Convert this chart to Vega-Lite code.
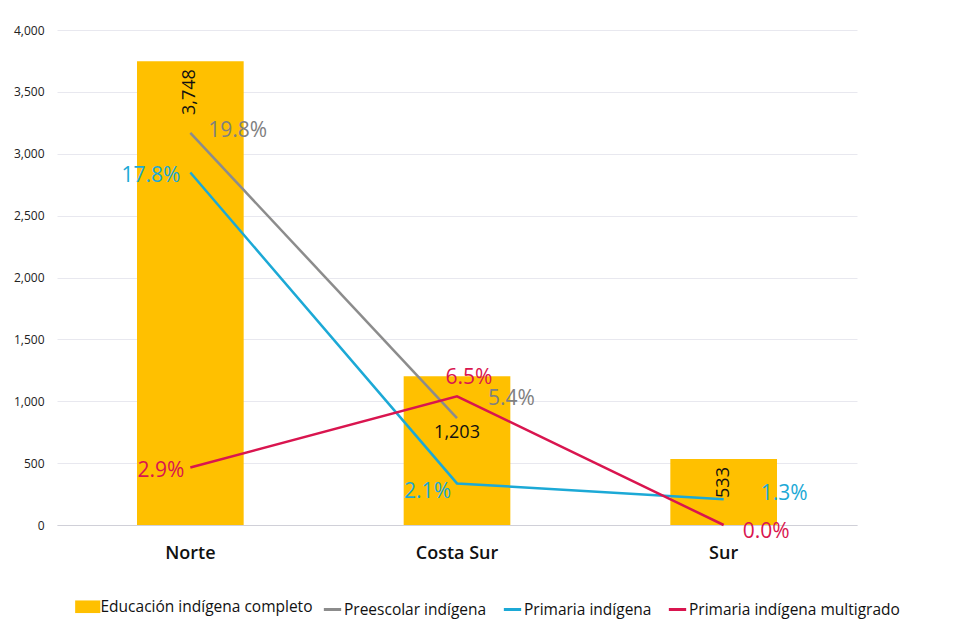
{
  "$schema": "https://vega.github.io/schema/vega-lite/v6.json",
  "width": 800,
  "height": 495,
  "autosize": "none",
  "padding": {"left": 57, "top": 30, "right": 118, "bottom": 117},
  "background": "white",
  "config": {
    "font": "Open Sans",
    "view": {"stroke": null},
    "axis": {"labelFont": "Open Sans"},
    "legend": {"labelFont": "Open Sans"}
  },
  "datasets": {
    "bars": [
      {"region": "Norte", "serie": "Educación indígena completo", "valor": 3748},
      {"region": "Costa Sur", "serie": "Educación indígena completo", "valor": 1203},
      {"region": "Sur", "serie": "Educación indígena completo", "valor": 533}
    ],
    "lines": [
      {"region": "Norte", "serie": "Preescolar indígena", "pct": 19.8, "label": "19.8%"},
      {"region": "Costa Sur", "serie": "Preescolar indígena", "pct": 5.4, "label": "5.4%"},
      {"region": "Norte", "serie": "Primaria indígena", "pct": 17.8, "label": "17.8%"},
      {"region": "Costa Sur", "serie": "Primaria indígena", "pct": 2.1, "label": "2.1%"},
      {"region": "Sur", "serie": "Primaria indígena", "pct": 1.3, "label": "1.3%"},
      {"region": "Norte", "serie": "Primaria indígena multigrado", "pct": 2.9, "label": "2.9%"},
      {"region": "Costa Sur", "serie": "Primaria indígena multigrado", "pct": 6.5, "label": "6.5%"},
      {"region": "Sur", "serie": "Primaria indígena multigrado", "pct": 0.0, "label": "0.0%"}
    ]
  },
  "encoding": {
    "x": {
      "field": "region", "type": "nominal", "sort": ["Norte", "Costa Sur", "Sur"],
      "scale": {"paddingInner": 0.6, "paddingOuter": 0.3},
      "axis": {"title": null, "labelAngle": 0, "labelFontSize": 18, "labelFontWeight": 600, "labelColor": "#111", "labelPadding": 19, "domainColor": "#d0d0d8", "ticks": false}
    }
  },
  "layer": [
    {
      "data": {"name": "bars"},
      "encoding": {
        "y": {"field": "valor", "type": "quantitative", "scale": {"domain": [0, 4000]},
          "axis": {"title": null, "format": ",.0f", "values": [0,500,1000,1500,2000,2500,3000,3500,4000], "labelFontSize": 12, "labelColor": "#222", "labelPadding": 13, "domain": false, "ticks": false, "gridColor": "#e8e8ef"}}
      },
      "layer": [
        {
          "mark": {"type": "bar", "color": "#FFC000"},
          "encoding": {
            "fill": {"field": "serie", "type": "nominal", "scale": {"range": ["#FFC000"]},
              "legend": {"title": null, "orient": "none", "legendX": 23, "legendY": 569, "symbolType": "M-1.8,-0.9H1.8V0.9H-1.8Z", "symbolSize": 196, "labelFontSize": 15.5, "labelLimit": 400, "labelColor": "#111", "labelOffset": 5, "symbolStrokeWidth": 0}}
          }
        },
        {
          "transform": [{"filter": "datum.region !== 'Costa Sur'"}],
          "mark": {"type": "text", "angle": 270, "align": "right", "baseline": "middle", "dx": -8, "fontSize": 18, "fontWeight": 500, "color": "#111"},
          "encoding": {
            "text": {"field": "valor", "type": "quantitative", "format": ","}
          }
        },
        {
          "transform": [{"filter": "datum.region === 'Costa Sur'"}],
          "mark": {"type": "text", "align": "center", "baseline": "middle", "dy": 57, "fontSize": 18, "fontWeight": 500, "color": "#111"},
          "encoding": {
            "text": {"field": "valor", "type": "quantitative", "format": ","}
          }
        }
      ]
    },
    {
      "data": {"name": "lines"},
      "encoding": {
        "y": {"field": "pct", "type": "quantitative", "scale": {"domain": [0, 25]}, "axis": null}
      },
      "layer": [
        {
          "mark": {"type": "line", "strokeWidth": 2.5},
          "encoding": {
            "stroke": {"field": "serie", "type": "nominal",
              "scale": {"domain": ["Preescolar indígena", "Primaria indígena", "Primaria indígena multigrado"], "range": ["#8C8C8C", "#1CA9D6", "#D9154F"]},
              "legend": {"title": null, "orient": "none", "direction": "horizontal", "legendX": 265, "legendY": 569, "symbolType": "stroke", "symbolStrokeWidth": 3, "symbolSize": 300, "labelFontSize": 15.5, "labelLimit": 400, "labelColor": "#111", "labelOffset": 1, "columnPadding": 10}}
          }
        },
        {"transform": [{"filter": "datum.label === '19.8%'"}], "mark": {"type": "text", "align": "left", "baseline": "middle", "dx": 18, "dy": -2, "fontSize": 21, "fontWeight": 500, "color": "#808080"}, "encoding": {"text": {"field": "label"}}},
        {"transform": [{"filter": "datum.label === '5.4%'"}], "mark": {"type": "text", "align": "left", "baseline": "middle", "dx": 31, "dy": -19, "fontSize": 21, "fontWeight": 500, "color": "#808080"}, "encoding": {"text": {"field": "label"}}},
        {"transform": [{"filter": "datum.label === '17.8%'"}], "mark": {"type": "text", "align": "right", "baseline": "middle", "dx": -10, "dy": 3, "fontSize": 21, "fontWeight": 500, "color": "#1CA9D6"}, "encoding": {"text": {"field": "label"}}},
        {"transform": [{"filter": "datum.label === '2.1%'"}], "mark": {"type": "text", "align": "right", "baseline": "middle", "dx": -6, "dy": 9, "fontSize": 21, "fontWeight": 500, "color": "#1CA9D6"}, "encoding": {"text": {"field": "label"}}},
        {"transform": [{"filter": "datum.label === '1.3%'"}], "mark": {"type": "text", "align": "left", "baseline": "middle", "dx": 37, "dy": -5, "fontSize": 21, "fontWeight": 500, "color": "#1CA9D6"}, "encoding": {"text": {"field": "label"}}},
        {"transform": [{"filter": "datum.label === '2.9%'"}], "mark": {"type": "text", "align": "right", "baseline": "middle", "dx": -6, "dy": 3, "fontSize": 21, "fontWeight": 500, "color": "#D9154F"}, "encoding": {"text": {"field": "label"}}},
        {"transform": [{"filter": "datum.label === '6.5%'"}], "mark": {"type": "text", "align": "center", "baseline": "middle", "dx": 12, "dy": -18, "fontSize": 21, "fontWeight": 500, "color": "#D9154F"}, "encoding": {"text": {"field": "label"}}},
        {"transform": [{"filter": "datum.label === '0.0%'"}], "mark": {"type": "text", "align": "left", "baseline": "middle", "dx": 19, "dy": 7, "fontSize": 21, "fontWeight": 500, "color": "#D9154F"}, "encoding": {"text": {"field": "label"}}}
      ]
    }
  ],
  "resolve": {"scale": {"y": "independent", "fill": "independent", "stroke": "independent"}}
}
